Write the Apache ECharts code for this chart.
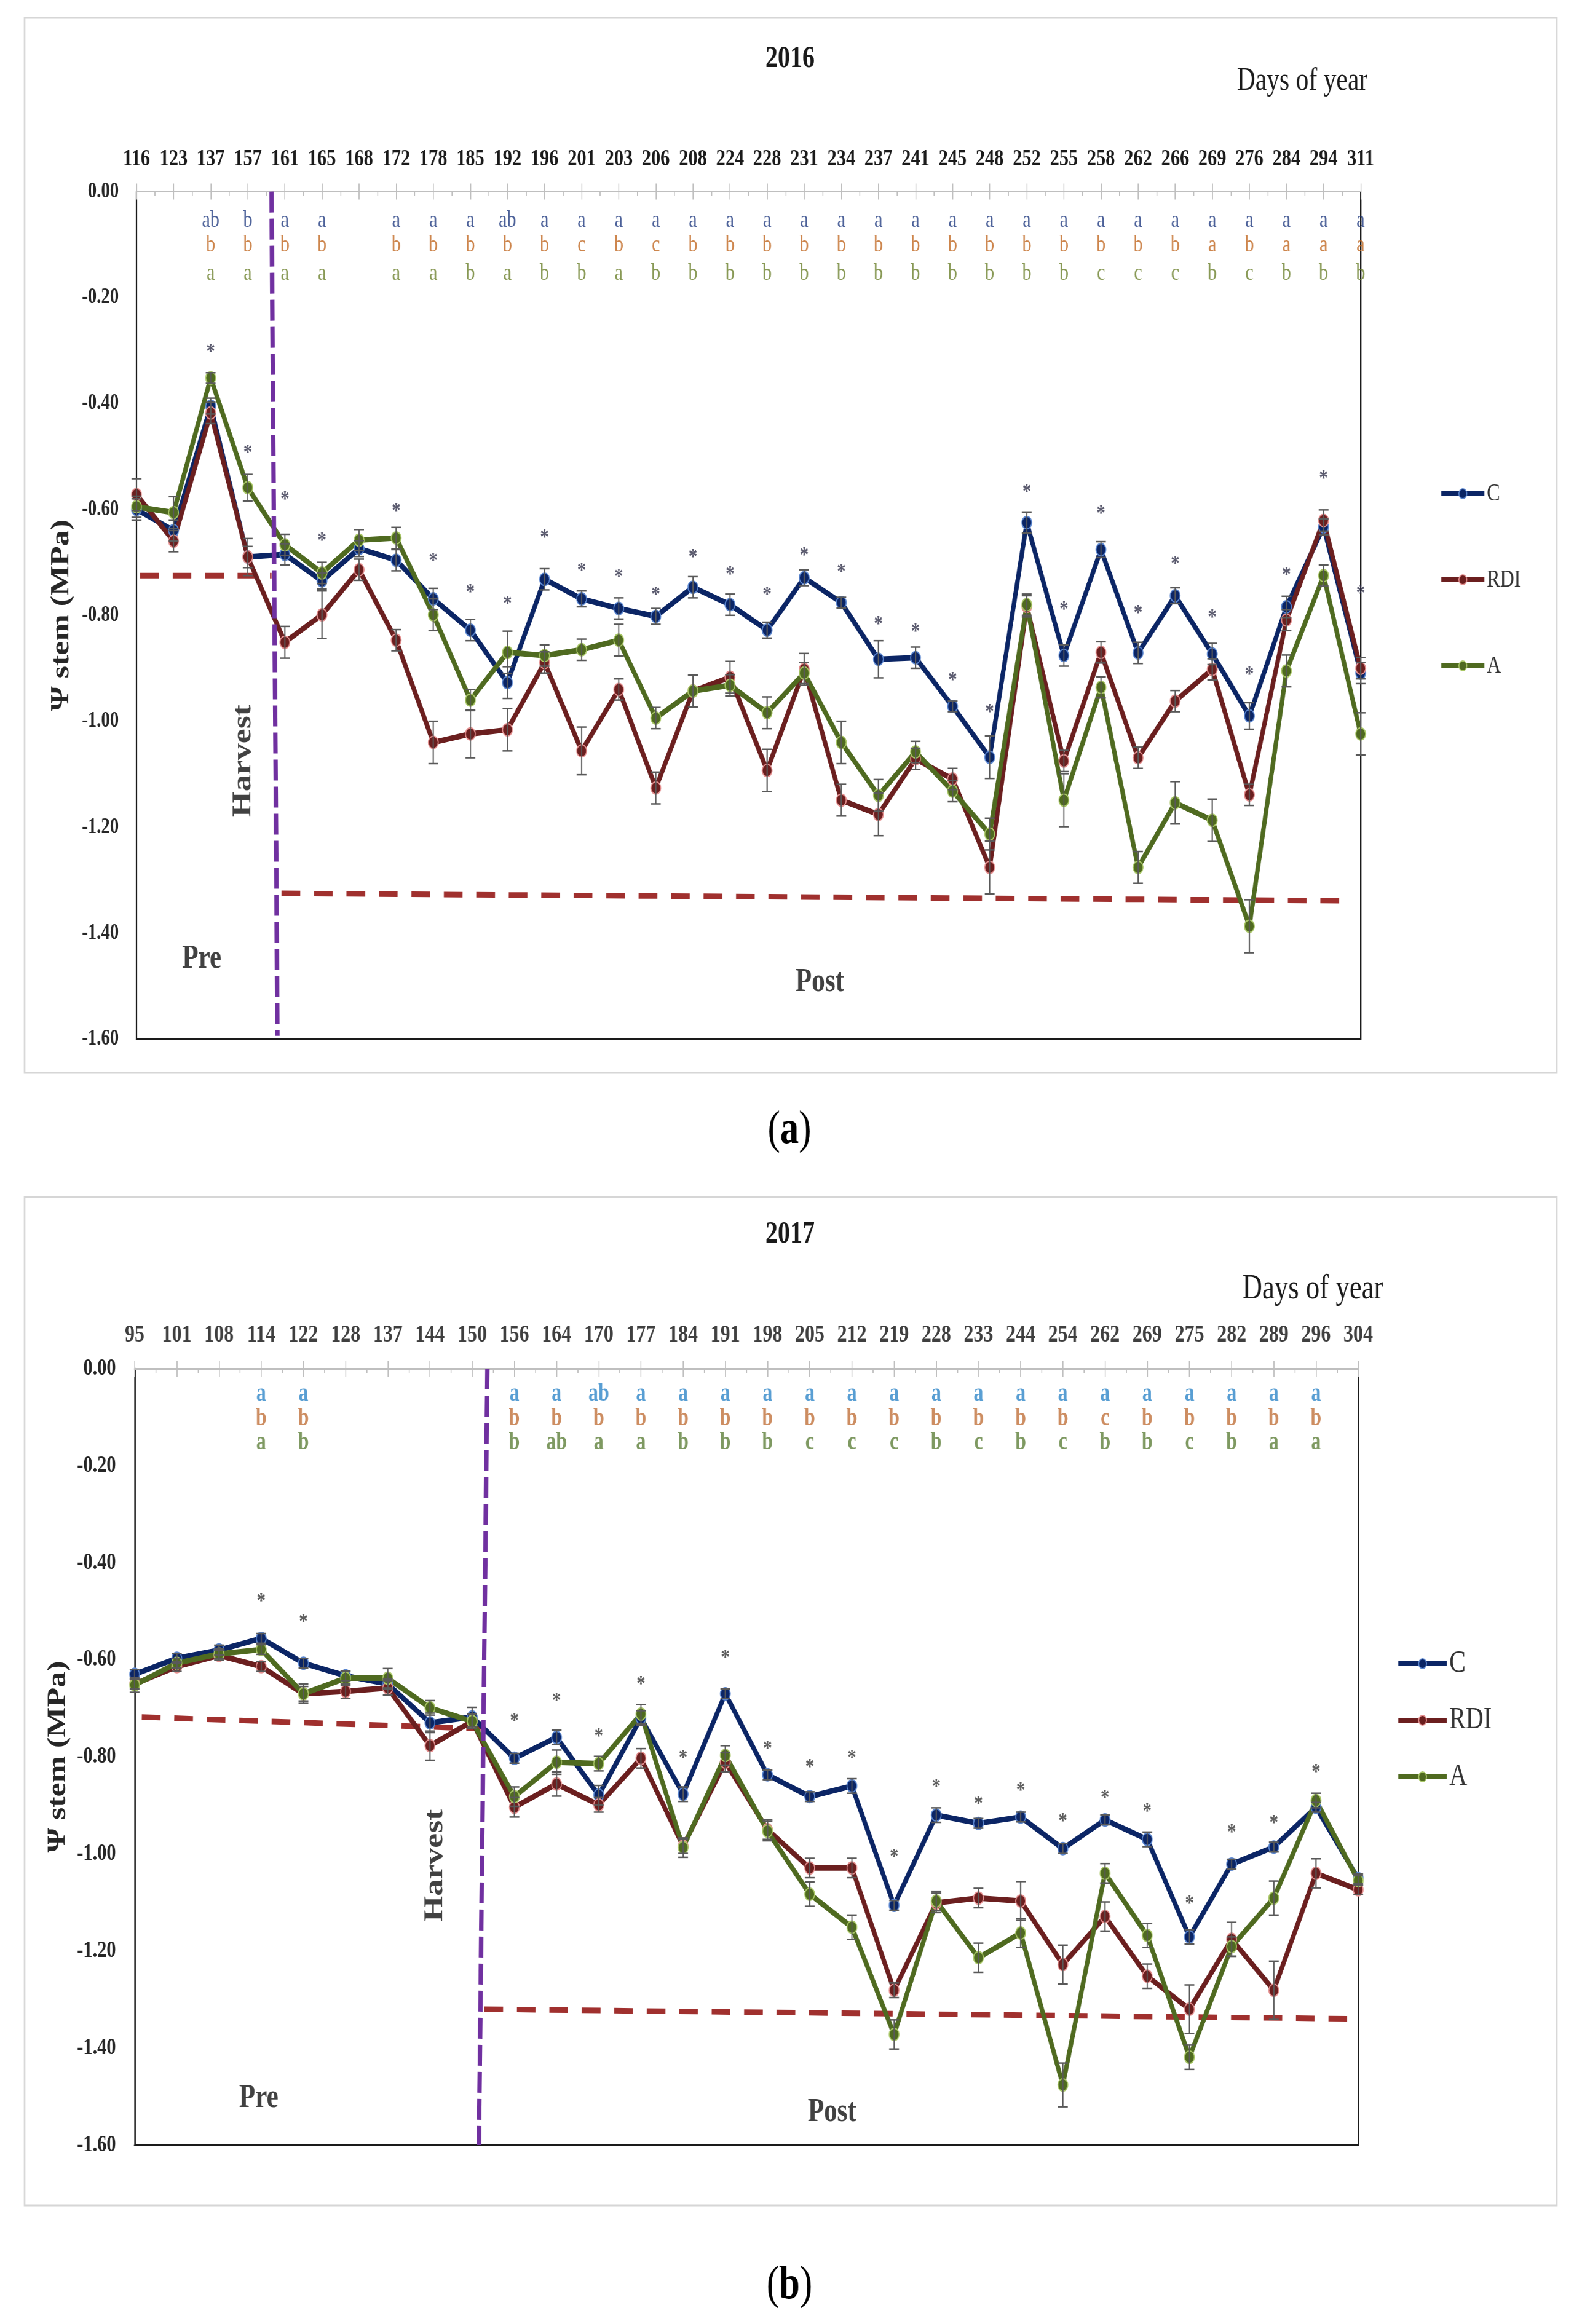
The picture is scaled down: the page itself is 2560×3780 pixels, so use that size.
<!DOCTYPE html>
<html><head><meta charset="utf-8">
<script src="https://cdn.jsdelivr.net/npm/echarts@6/dist/echarts.min.js"></script>
<style>
html,body{margin:0;padding:0;background:#fff;overflow:hidden;width:2560px;height:3780px}
#c{width:3200px;height:3780px;transform:scaleX(0.8);transform-origin:0 0}
</style>
</head><body><div id="c"></div>
<script>
// ---------------- DATA 2016 ----------------
const cats2016 = ['116','123','137','157','161','165','168','172','178','185','192','196','201','203','206','208','224','228','231','234','237','241','245','248','252','255','258','262','266','269','276','284','294','311'];
const C2016   = [-0.60,-0.64,-0.405,-0.69,-0.685,-0.735,-0.674,-0.696,-0.769,-0.828,-0.927,-0.732,-0.769,-0.787,-0.802,-0.747,-0.780,-0.828,-0.729,-0.776,-0.883,-0.880,-0.972,-1.068,-0.625,-0.876,-0.676,-0.871,-0.763,-0.873,-0.990,-0.784,-0.633,-0.909];
const RDI2016 = [-0.572,-0.66,-0.418,-0.69,-0.851,-0.799,-0.714,-0.847,-1.040,-1.024,-1.016,-0.889,-1.056,-0.940,-1.126,-0.943,-0.917,-1.093,-0.902,-1.149,-1.176,-1.071,-1.109,-1.276,-0.783,-1.075,-0.870,-1.069,-0.962,-0.902,-1.139,-0.809,-0.621,-0.900];
const A2016   = [-0.595,-0.606,-0.352,-0.559,-0.667,-0.720,-0.658,-0.654,-0.799,-0.960,-0.870,-0.876,-0.865,-0.847,-0.994,-0.943,-0.932,-0.984,-0.909,-1.040,-1.140,-1.058,-1.132,-1.213,-0.780,-1.149,-0.936,-1.276,-1.154,-1.187,-1.387,-0.905,-0.725,-1.024];
const errC2016   = [0.02,0.02,0.015,0.02,0.02,0.015,0.015,0.02,0.02,0.02,0.03,0.02,0.015,0.02,0.015,0.02,0.02,0.015,0.015,0.01,0.035,0.02,0.01,0.04,0.02,0.02,0.015,0.02,0.015,0.02,0.025,0.02,0.015,0.02];
const errRDI2016 = [0.03,0.02,0.02,0.035,0.03,0.045,0.02,0.02,0.04,0.045,0.04,0.02,0.045,0.02,0.03,0.03,0.03,0.04,0.03,0.03,0.04,0.02,0.02,0.05,0.02,0.02,0.02,0.02,0.02,0.02,0.02,0.02,0.02,0.02];
const errA2016   = [0.02,0.03,0.01,0.025,0.02,0.02,0.02,0.02,0.03,0.02,0.04,0.02,0.02,0.03,0.02,0.03,0.02,0.03,0.02,0.04,0.03,0.02,0.02,0.03,0.02,0.05,0.02,0.03,0.04,0.04,0.05,0.03,0.02,0.04];
const letC2016   = ['','','ab','b','a','a','','a','a','a','ab','a','a','a','a','a','a','a','a','a','a','a','a','a','a','a','a','a','a','a','a','a','a','a'];
const letRDI2016 = ['','','b','b','b','b','','b','b','b','b','b','c','b','c','b','b','b','b','b','b','b','b','b','b','b','b','b','b','a','b','a','a','a'];
const letA2016   = ['','','a','a','a','a','','a','a','b','a','b','b','a','b','b','b','b','b','b','b','b','b','b','b','b','c','c','c','b','c','b','b','b'];
const stars2016 = [['137',-0.297],['157',-0.488],['161',-0.576],['165',-0.654],['172',-0.598],['178',-0.692],['185',-0.751],['192',-0.773],['196',-0.648],['201',-0.710],['203',-0.722],['206',-0.756],['208',-0.685],['224',-0.718],['228',-0.756],['231',-0.681],['234',-0.713],['237',-0.811],['241',-0.825],['245',-0.917],['248',-0.978],['252',-0.562],['255',-0.784],['258',-0.603],['262',-0.791],['266',-0.698],['269',-0.799],['276',-0.907],['284',-0.719],['294',-0.536],['311',-0.754]];
// annotation positions (x = category index)
const harvest2016 = [[3.64,0],[3.80,-1.594]];
const preRef2016  = [[0.1,-0.725],[3.64,-0.725]];
const postRef2016 = [[3.91,-1.325],[32.6,-1.339]];
const notes2016   = [['Harvest',2.89,-1.075,90],['Pre',1.76,-1.449,0],['Post',18.42,-1.493,0]];

// ---------------- DATA 2017 ----------------
const cats2017 = ['95','101','108','114','122','128','137','144','150','156','164','170','177','184','191','198','205','212','219','228','233','244','254','262','269','275','282','289','296','304'];
const C2017   = [-0.630,-0.597,-0.580,-0.556,-0.607,-0.633,-0.650,-0.730,-0.718,-0.803,-0.760,-0.879,-0.720,-0.877,-0.670,-0.837,-0.882,-0.860,-1.106,-0.920,-0.937,-0.924,-0.989,-0.930,-0.970,-1.171,-1.021,-0.986,-0.904,-1.051];
const RDI2017 = [-0.650,-0.614,-0.591,-0.614,-0.670,-0.665,-0.658,-0.777,-0.727,-0.904,-0.856,-0.899,-0.803,-0.984,-0.811,-0.950,-1.029,-1.029,-1.281,-1.101,-1.091,-1.097,-1.228,-1.129,-1.252,-1.320,-1.176,-1.281,-1.040,-1.074];
const A2017   = [-0.652,-0.607,-0.588,-0.579,-0.670,-0.638,-0.638,-0.699,-0.727,-0.882,-0.811,-0.814,-0.712,-0.987,-0.797,-0.953,-1.083,-1.151,-1.372,-1.097,-1.214,-1.163,-1.476,-1.040,-1.168,-1.419,-1.191,-1.091,-0.890,-1.055];
const errC2017   = [0.01,0.01,0.01,0.01,0.01,0.01,0.01,0.02,0.02,0.01,0.015,0.02,0.015,0.015,0.01,0.01,0.01,0.015,0.01,0.015,0.01,0.01,0.01,0.01,0.015,0.015,0.01,0.01,0.01,0.01];
const errRDI2017 = [0.01,0.01,0.01,0.01,0.015,0.015,0.015,0.03,0.015,0.02,0.025,0.015,0.02,0.015,0.02,0.02,0.02,0.02,0.015,0.02,0.02,0.04,0.04,0.03,0.025,0.05,0.035,0.06,0.03,0.01];
const errA2017   = [0.015,0.01,0.01,0.01,0.02,0.015,0.02,0.015,0.015,0.02,0.025,0.015,0.02,0.02,0.02,0.02,0.025,0.025,0.03,0.02,0.03,0.03,0.045,0.02,0.025,0.025,0.02,0.035,0.015,0.01];
const letC2017   = ['','','','a','a','','','','','a','a','ab','a','a','a','a','a','a','a','a','a','a','a','a','a','a','a','a','a',''];
const letRDI2017 = ['','','','b','b','','','','','b','b','b','b','b','b','b','b','b','b','b','b','b','b','c','b','b','b','b','b',''];
const letA2017   = ['','','','a','b','','','','','b','ab','a','a','b','b','b','c','c','c','b','c','b','c','b','b','c','b','a','a',''];
const stars2017 = [['114',-0.473],['122',-0.517],['156',-0.721],['164',-0.679],['170',-0.752],['177',-0.645],['184',-0.797],['191',-0.590],['198',-0.777],['205',-0.816],['212',-0.797],['219',-1.001],['228',-0.856],['233',-0.891],['244',-0.863],['254',-0.927],['262',-0.879],['269',-0.907],['275',-1.097],['282',-0.950],['289',-0.931],['296',-0.826]];
const harvest2017 = [[8.36,0],[8.16,-1.6]];
const preRef2017  = [[0.17,-0.718],[8.2,-0.742]];
const postRef2017 = [[8.29,-1.320],[29.04,-1.340]];
const notes2017   = [['Harvest',7.13,-1.024,90],['Pre',2.94,-1.504,0],['Post',16.53,-1.533,0]];
const letterRows2016 = [-0.055,-0.101,-0.155];
const letterRows2017 = [-0.053,-0.103,-0.153];

// ---------------- STYLE / LAYOUT ----------------
const SX = 0.8;               // the picture is horizontally condensed
const X = v => v / SX;        // picture x -> chart x
const SERIF = 'Liberation Serif';
const COL = {C:'#0B2565', RDI:'#6B1F1F', A:'#4F6A20'};
const BORDER = {C:'#5A86D0', RDI:'#E59090', A:'#A9C766'};

const panels = [
  {cats:cats2016, C:C2016, RDI:RDI2016, A:A2016, eC:errC2016, eR:errRDI2016, eA:errA2016,
   lC:letC2016, lR:letRDI2016, lA:letA2016, rows:letterRows2016, stars:stars2016,
   harvest:harvest2016, pre:preRef2016, post:postRef2016, notes:notes2016,
   grid:{left:X(222), top:311.6, width:X(2213)-X(222), height:1690-311.6},
   xLab:{fontSize:38, color:'#1a1a1a', margin:33}, yLab:{fontSize:36, margin:36},
   letFont:{fontSize:38, fontWeight:'normal'}, letCol:['#1F3A80','#C0661F','#6A7F2A'],
   starCol:'#2F2F48', yName:{fontSize:52, gap:126}},
  {cats:cats2017, C:C2017, RDI:RDI2017, A:A2017, eC:errC2017, eR:errRDI2017, eA:errA2017,
   lC:letC2017, lR:letRDI2017, lA:letA2017, rows:letterRows2017, stars:stars2017,
   harvest:harvest2017, pre:preRef2017, post:postRef2017, notes:notes2017,
   grid:{left:X(219), top:2226, width:X(2209)-X(219), height:3489-2226},
   xLab:{fontSize:40, color:'#3f3f3f', margin:34}, yLab:{fontSize:38, margin:38},
   letFont:{fontSize:40, fontWeight:'bold'}, letCol:['#2E86C8','#C0703A','#5E7F3A'],
   starCol:'#333333', yName:{fontSize:52, gap:129}}
];

const grid = [], xAxis = [], yAxis = [], series = [];
panels.forEach((p, k) => {
  const n = p.cats.length;
  grid.push(Object.assign({containLabel:false, outerBoundsMode:'none'}, p.grid));
  // category axis on top
  xAxis.push({type:'category', gridIndex:k, position:'top', data:p.cats, boundaryGap:false,
    axisLine:{show:true, onZero:false, lineStyle:{color:'#BFBFBF', width:3}},
    axisTick:{show:true, length:13, inside:false, lineStyle:{color:'#BFBFBF', width:2}},
    axisLabel:{interval:0, margin:p.xLab.margin, fontFamily:SERIF, fontWeight:'bold', fontSize:p.xLab.fontSize, color:p.xLab.color},
    splitLine:{show:false}});
  // value twin on top: inner ticks + annotations
  xAxis.push({type:'value', gridIndex:k, position:'top', min:0, max:n-1, interval:1,
    axisLine:{show:false, onZero:false}, axisLabel:{show:false}, splitLine:{show:false},
    axisTick:{show:true, inside:true, length:13, lineStyle:{color:'#BFBFBF', width:2}},
    minorTick:{show:true, splitNumber:2, length:7, lineStyle:{color:'#BFBFBF', width:2}}});
  // bottom frame
  xAxis.push({type:'value', gridIndex:k, position:'bottom', min:0, max:n-1,
    axisLine:{show:true, onZero:false, lineStyle:{color:'#1a1a1a', width:3}},
    axisLabel:{show:false}, axisTick:{show:false}, splitLine:{show:false}});
  yAxis.push({type:'value', gridIndex:k, position:'left', min:-1.6, max:0, interval:0.2,
    axisLine:{show:true, onZero:false, lineStyle:{color:'#1a1a1a', width:3}},
    axisTick:{show:false}, splitLine:{show:false},
    axisLabel:{margin:p.yLab.margin, fontFamily:SERIF, fontWeight:'bold', fontSize:p.yLab.fontSize, color:'#262626',
      formatter:v => v.toFixed(2)},
    name:'Ψ stem (MPa)', nameLocation:'middle', nameRotate:90, nameGap:p.yName.gap,
    nameTextStyle:{fontFamily:SERIF, fontWeight:'bold', fontSize:p.yName.fontSize, color:'#262626'}});
  yAxis.push({type:'value', gridIndex:k, position:'right', min:-1.6, max:0,
    axisLine:{show:true, onZero:false, lineStyle:{color:'#1a1a1a', width:3}},
    axisTick:{show:false}, axisLabel:{show:false}, splitLine:{show:false}});

  const xc = 3*k, xv = 3*k+1, yi = 2*k;
  // reference dashed lines
  [p.pre, p.post].forEach(d => series.push({type:'line', xAxisIndex:xv, yAxisIndex:yi, data:d,
    symbol:'none', silent:true, z:1, lineStyle:{color:'#A0302E', width:9, type:[38,28]}}));
  // harvest line
  series.push({type:'line', xAxisIndex:xv, yAxisIndex:yi, data:p.harvest, symbol:'none', silent:true, z:6,
    lineStyle:{color:'#7030A0', width:9, type:[34,10]}});
  // data lines
  [['C',p.C,p.eC],['RDI',p.RDI,p.eR],['A',p.A,p.eA]].forEach(([nm, vals, errs]) => {
    series.push({type:'line', name:nm, xAxisIndex:xc, yAxisIndex:yi, data:vals, z:3,
      symbol:'circle', symbolSize:20, showAllSymbol:true,
      lineStyle:{color:COL[nm], width:9},
      itemStyle:{color:COL[nm], borderColor:BORDER[nm], borderWidth:2}});
    series.push({type:'custom', xAxisIndex:xc, yAxisIndex:yi, z:4, silent:true,
      data:vals.map((v,i)=>[i, v, errs[i]]),
      encode:{x:0, y:1},
      renderItem:(params, api) => {
        const i = api.value(0), m = api.value(1), e = api.value(2);
        const a = api.coord([i, m+e]), b = api.coord([i, m-e]);
        const hw = 10, st = {stroke:'#595959', lineWidth:2.5};
        return {type:'group', children:[
          {type:'line', shape:{x1:a[0],y1:a[1],x2:b[0],y2:b[1]}, style:st},
          {type:'line', shape:{x1:a[0]-hw,y1:a[1],x2:a[0]+hw,y2:a[1]}, style:st},
          {type:'line', shape:{x1:b[0]-hw,y1:b[1],x2:b[0]+hw,y2:b[1]}, style:st}]};
      }});
  });
  // significance letters
  [p.lC, p.lR, p.lA].forEach((arr, r) => {
    series.push({type:'scatter', xAxisIndex:xc, yAxisIndex:yi, silent:true, z:5,
      symbolSize:1, itemStyle:{color:'rgba(0,0,0,0)'},
      data:p.cats.map((c,i)=>arr[i] ? [c, p.rows[r], arr[i]] : null).filter(Boolean),
      label:{show:true, position:'inside', formatter:q=>q.data[2], fontFamily:SERIF,
        fontSize:p.letFont.fontSize, fontWeight:p.letFont.fontWeight, color:p.letCol[r]}});
  });
  // asterisks
  series.push({type:'scatter', xAxisIndex:xc, yAxisIndex:yi, silent:true, z:5,
    symbolSize:1, itemStyle:{color:'rgba(0,0,0,0)'}, data:p.stars,
    label:{show:true, position:'inside', formatter:'*', offset:[0,6], fontFamily:SERIF, fontSize:36, fontWeight:'bold', color:p.starCol}});
  // Harvest / Pre / Post
  series.push({type:'scatter', xAxisIndex:xv, yAxisIndex:yi, silent:true, z:5,
    symbolSize:1, itemStyle:{color:'rgba(0,0,0,0)'},
    data:p.notes.map(t=>({value:[t[1],t[2]], name:t[0], label:{rotate:t[3]}})),
    label:{show:true, position:'inside', formatter:q=>q.name, fontFamily:SERIF, fontSize:54, fontWeight:'bold', color:'#111'}});
});

const chart = echarts.init(document.getElementById('c'), null, {renderer:'canvas'});
chart.setOption({
  backgroundColor:'#fff', animation:false,
  grid, xAxis, yAxis, series,
  legend:[
    {data:['C','RDI','A'], orient:'vertical', left:X(2337), top:778, itemWidth:X(2407)-X(2337), itemHeight:20, itemGap:100,
     lineStyle:{width:8}, textStyle:{fontFamily:SERIF, fontSize:40, lineHeight:40, color:'#333'}},
    {data:['C','RDI','A'], orient:'vertical', left:X(2267), top:2676, itemWidth:X(2346)-X(2267), itemHeight:20, itemGap:42,
     lineStyle:{width:8}, textStyle:{fontFamily:SERIF, fontSize:50, lineHeight:50, color:'#333'}}
  ],
  graphic:[
    {type:'rect', shape:{x:X(40), y:29, width:X(2532)-X(40), height:1716}, style:{fill:'none', stroke:'#D6D6D6', lineWidth:3}},
    {type:'rect', shape:{x:X(40), y:1947, width:X(2532)-X(40), height:1640}, style:{fill:'none', stroke:'#D6D6D6', lineWidth:3}},
    {type:'text', x:X(1285), y:96, style:{text:'2016', font:'bold 50px "Liberation Serif"', fill:'#1a1a1a', textAlign:'center', textVerticalAlign:'middle'}},
    {type:'text', x:X(2118), y:132, style:{text:'Days of year', font:'52px "Liberation Serif"', fill:'#1a1a1a', textAlign:'center', textVerticalAlign:'middle'}},
    {type:'text', x:X(1285), y:2008, style:{text:'2017', font:'bold 50px "Liberation Serif"', fill:'#1a1a1a', textAlign:'center', textVerticalAlign:'middle'}},
    {type:'text', x:X(2135), y:2097, style:{text:'Days of year', font:'56px "Liberation Serif"', fill:'#1a1a1a', textAlign:'center', textVerticalAlign:'middle'}},
    {type:'text', x:X(1284), y:1839, style:{text:'({b|a})', font:'76px "Liberation Serif"', fill:'#000', textAlign:'center', textVerticalAlign:'middle',
      rich:{b:{fontWeight:'bold', fontSize:76, fontFamily:SERIF}}}},
    {type:'text', x:X(1284), y:3718, style:{text:'({b|b})', font:'76px "Liberation Serif"', fill:'#000', textAlign:'center', textVerticalAlign:'middle',
      rich:{b:{fontWeight:'bold', fontSize:76, fontFamily:SERIF}}}}
  ]
});
</script></body></html>
